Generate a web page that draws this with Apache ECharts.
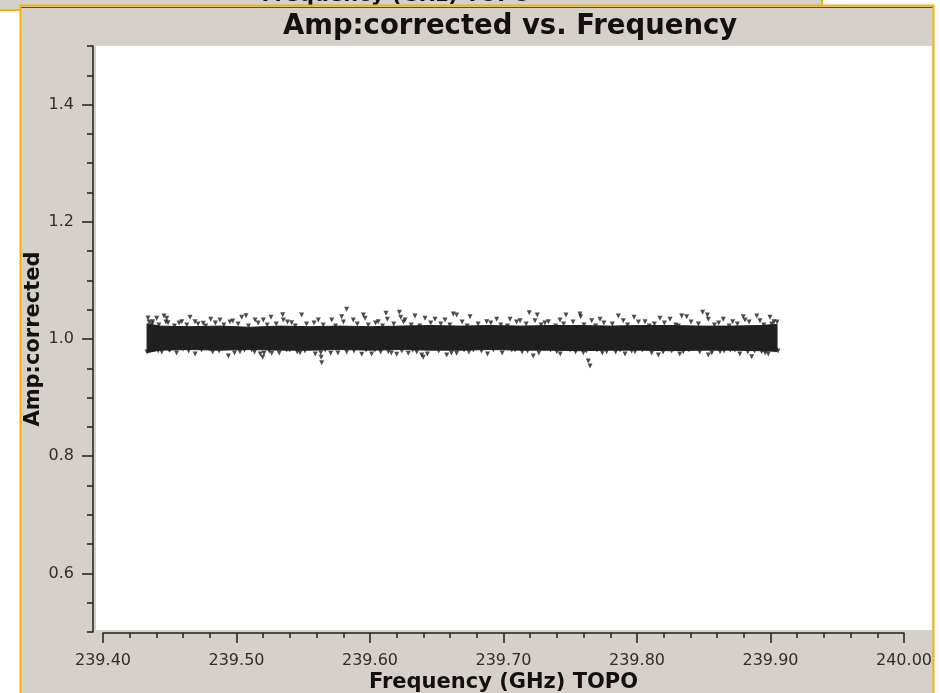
<!DOCTYPE html>
<html>
<head>
<meta charset="utf-8">
<script src="https://cdn.jsdelivr.net/npm/echarts@6/dist/echarts.min.js"></script>
<style>
html,body{margin:0;padding:0;background:#ffffff;}
#chart{width:940px;height:693px;}
</style>
</head>
<body>
<div id="chart"></div>
<script>
// ---------------- data ----------------
const chartTitle = 'Amp:corrected vs. Frequency';
const xAxisTitle = 'Frequency (GHz) TOPO';
const yAxisTitle = 'Amp:corrected';

const xTicks = [239.40, 239.50, 239.60, 239.70, 239.80, 239.90, 240.00];
const yTicks = [0.6, 0.8, 1.0, 1.2, 1.4];

// dense core of the channel cloud: upper / lower edge
const bandFreq  = [239.4330, 239.4427, 239.4652, 239.4876, 239.5101, 239.5326, 239.5551, 239.5775,
                   239.6000, 239.6225, 239.6449, 239.6674, 239.6899, 239.7124, 239.7348, 239.7573,
                   239.7798, 239.8022, 239.8247, 239.8472, 239.8697, 239.8921, 239.9049];
const bandUpper = [1.026, 1.022, 1.021, 1.022, 1.020, 1.022, 1.021, 1.022, 1.021, 1.022, 1.023, 1.022,
                   1.023, 1.022, 1.023, 1.023, 1.022, 1.023, 1.023, 1.022, 1.022, 1.023, 1.025];
const bandLower = [0.977, 0.981, 0.982, 0.981, 0.982, 0.981, 0.981, 0.982, 0.981, 0.982, 0.981, 0.981,
                   0.982, 0.981, 0.981, 0.980, 0.981, 0.981, 0.980, 0.981, 0.981, 0.980, 0.979];

// channels forming the ragged upper edge of the cloud
const edgeUpperFreq = [
  239.4365, 239.4418, 239.4471, 239.4535, 239.4570, 239.4628, 239.4712, 239.4769, 239.4842, 239.4905,
  239.4951, 239.5012, 239.5090, 239.5162, 239.5230, 239.5298, 239.5382, 239.5440, 239.5525, 239.5581,
  239.5650, 239.5742, 239.5801, 239.5905, 239.5987, 239.6041, 239.6094, 239.6178, 239.6251, 239.6309,
  239.6372, 239.6455, 239.6530, 239.6598, 239.6690, 239.6728, 239.6810, 239.6905, 239.6980, 239.7030,
  239.7098, 239.7170, 239.7282, 239.7310, 239.7390, 239.7450, 239.7521, 239.7603, 239.7690, 239.7752,
  239.7815, 239.7930, 239.8011, 239.8092, 239.8130, 239.8205, 239.8290, 239.8310, 239.8405, 239.8460,
  239.8580, 239.8612, 239.8690, 239.8752, 239.8840, 239.8950, 239.9010
];
const edgeUpperAmp = [
  1.0256, 1.0239, 1.0290, 1.0222, 1.0273, 1.0239, 1.0256, 1.0222, 1.0273, 1.0239,
  1.0290, 1.0256, 1.0222, 1.0273, 1.0239, 1.0256, 1.0290, 1.0222, 1.0256, 1.0273,
  1.0239, 1.0222, 1.0290, 1.0256, 1.0239, 1.0273, 1.0222, 1.0256, 1.0290, 1.0239,
  1.0222, 1.0273, 1.0256, 1.0239, 1.0290, 1.0222, 1.0256, 1.0273, 1.0239, 1.0222,
  1.0290, 1.0256, 1.0239, 1.0273, 1.0222, 1.0256, 1.0290, 1.0239, 1.0222, 1.0273,
  1.0256, 1.0239, 1.0290, 1.0222, 1.0256, 1.0273, 1.0239, 1.0222, 1.0290, 1.0256,
  1.0239, 1.0273, 1.0222, 1.0256, 1.0290, 1.0239, 1.0256
];
// channels forming the ragged lower edge of the cloud
const edgeLowerFreq = [
  239.4352, 239.4440, 239.4495, 239.4551, 239.4642, 239.4690, 239.4738, 239.4822, 239.4870, 239.4985,
  239.5060, 239.5135, 239.5178, 239.5245, 239.5320, 239.5398, 239.5455, 239.5512, 239.5590, 239.5665,
  239.5760, 239.5825, 239.5880, 239.5970, 239.6012, 239.6080, 239.6160, 239.6238, 239.6320, 239.6350,
  239.6430, 239.6515, 239.6610, 239.6705, 239.6741, 239.6835, 239.6880, 239.6990, 239.7062, 239.7140,
  239.7180, 239.7265, 239.7352, 239.7425, 239.7540, 239.7620, 239.7700, 239.7740, 239.7840, 239.7910,
  239.7960, 239.8040, 239.8110, 239.8195, 239.8260, 239.8320, 239.8390, 239.8470, 239.8560, 239.8652,
  239.8700, 239.8770, 239.8830, 239.8880, 239.8960, 239.9040
];
const edgeLowerAmp = [
  0.9795, 0.9778, 0.9812, 0.9761, 0.9795, 0.9744, 0.9812, 0.9778, 0.9795, 0.9761,
  0.9812, 0.9778, 0.9744, 0.9795, 0.9761, 0.9812, 0.9778, 0.9795, 0.9744, 0.9812,
  0.9761, 0.9778, 0.9795, 0.9812, 0.9744, 0.9778, 0.9761, 0.9795, 0.9812, 0.9778,
  0.9744, 0.9795, 0.9761, 0.9812, 0.9778, 0.9795, 0.9744, 0.9761, 0.9812, 0.9778,
  0.9795, 0.9761, 0.9812, 0.9744, 0.9778, 0.9795, 0.9812, 0.9761, 0.9778, 0.9744,
  0.9795, 0.9812, 0.9761, 0.9778, 0.9795, 0.9744, 0.9812, 0.9778, 0.9761, 0.9795,
  0.9812, 0.9744, 0.9778, 0.9795, 0.9761, 0.9812
];

// individual channels that stick out further
const outlierFreq = [
  239.4337, 239.4345, 239.4330, 239.4372, 239.4402, 239.4457, 239.4477, 239.4487, 239.4590, 239.4652,
  239.4689, 239.4751, 239.4807, 239.4876, 239.4972, 239.5039, 239.5071, 239.5139, 239.5201, 239.5258,
  239.5346, 239.5351, 239.5413, 239.5488, 239.5613, 239.5713, 239.5788, 239.5825, 239.5875, 239.5950,
  239.5963, 239.6062, 239.6120, 239.6130, 239.6220, 239.6230, 239.6262, 239.6337, 239.6412, 239.6487,
  239.6562, 239.6624, 239.6649, 239.6749, 239.6874, 239.6949, 239.7049, 239.7124, 239.7193, 239.7253,
  239.7236, 239.7336, 239.7423, 239.7468, 239.7573, 239.7578, 239.7661, 239.7723, 239.7860, 239.7897,
  239.7978, 239.8060, 239.8172, 239.8247, 239.8335, 239.8372, 239.8492, 239.8527, 239.8534, 239.8646,
  239.8717, 239.8796, 239.8809, 239.8897, 239.8921, 239.8996, 239.9026, 239.9049, 239.9056,
  239.4414, 239.4502, 239.4601, 239.4801, 239.4939, 239.5026, 239.5114, 239.5196, 239.5206, 239.5264,
  239.5376, 239.5476, 239.5631, 239.5634, 239.5638, 239.5706, 239.5938, 239.6037, 239.6137, 239.6200,
  239.6287, 239.6387, 239.6399, 239.6575, 239.6649, 239.6774, 239.6924, 239.7086, 239.7223, 239.7399,
  239.7498, 239.7598, 239.7635, 239.7648, 239.7773, 239.7873, 239.7985, 239.8160, 239.8347, 239.8534,
  239.8622, 239.8734, 239.8859, 239.8934, 239.8983, 239.9026
];
const outlierAmp = [
  1.0358, 1.0290, 0.9778, 1.0295, 1.0353, 1.0392, 1.0353, 1.0278, 1.0295, 1.0370,
  1.0295, 1.0268, 1.0336, 1.0324, 1.0307, 1.0370, 1.0397, 1.0324, 1.0324, 1.0370,
  1.0414, 1.0324, 1.0278, 1.0409, 1.0324, 1.0324, 1.0380, 1.0506, 1.0324, 1.0409,
  1.0353, 1.0295, 1.0438, 1.0336, 1.0455, 1.0370, 1.0324, 1.0392, 1.0353, 1.0336,
  1.0324, 1.0426, 1.0409, 1.0380, 1.0295, 1.0336, 1.0336, 1.0312, 1.0448, 1.0409,
  1.0312, 1.0295, 1.0324, 1.0409, 1.0426, 1.0380, 1.0312, 1.0336, 1.0392, 1.0312,
  1.0370, 1.0295, 1.0353, 1.0336, 1.0392, 1.0380, 1.0455, 1.0409, 1.0336, 1.0336,
  1.0295, 1.0380, 1.0324, 1.0392, 1.0312, 1.0370, 1.0295, 1.0290, 0.9795,
  0.9801, 0.9812, 0.9830, 0.9824, 0.9710, 0.9783, 0.9812, 0.9688, 0.9756, 0.9756,
  0.9812, 0.9766, 0.9766, 0.9688, 0.9596, 0.9756, 0.9739, 0.9812, 0.9783, 0.9739,
  0.9756, 0.9727, 0.9688, 0.9727, 0.9756, 0.9812, 0.9812, 0.9812, 0.9710, 0.9783,
  0.9812, 0.9766, 0.9625, 0.9540, 0.9783, 0.9812, 0.9783, 0.9727, 0.9783, 0.9727,
  0.9783, 0.9812, 0.9698, 0.9783, 0.9744, 0.9812
];

// ---------------- chart ----------------
const FONT = 'DejaVu Sans';
const INK = '#1f1f1f';
const GRAY = '#d5d1ca';
const ORANGE = '#f6b400';

const chart = echarts.init(document.getElementById('chart'), null, {renderer: 'canvas'});

const pairs = (fs, as) => fs.map((f, i) => [f, as[i]]);
const pointData = pairs(outlierFreq, outlierAmp)
  .concat(pairs(edgeUpperFreq, edgeUpperAmp))
  .concat(pairs(edgeLowerFreq, edgeLowerAmp));

const option = {
  animation: false,
  backgroundColor: '#ffffff',
  title: {
    text: chartTitle,
    left: 278,
    top: 8,
    textStyle: {fontFamily: FONT, fontSize: 27.5, fontWeight: 'bold', color: '#111'}
  },
  graphic: {
    elements: [
      // window behind
      {type: 'rect', z: -20, silent: true, shape: {x: -2, y: -2, width: 824, height: 12},
       style: {fill: GRAY, stroke: ORANGE, lineWidth: 2}},
      {type: 'text', z: -19, silent: true, x: 396, y: -4,
       style: {text: xAxisTitle, font: 'bold 21px "DejaVu Sans"', fill: '#111', textAlign: 'center', textVerticalAlign: 'middle'}},
      // front window
      {type: 'rect', z: -15, silent: true, shape: {x: 20.5, y: 5.5, width: 913, height: 800},
       style: {fill: GRAY, stroke: ORANGE, lineWidth: 2}},
      {type: 'line', z: -14, silent: true, shape: {x1: 21.5, y1: 7.5, x2: 932.5, y2: 7.5},
       style: {stroke: '#4d4d4d', lineWidth: 1}},
      // plot canvas
      {type: 'rect', z: -13, silent: true, shape: {x: 96, y: 46, width: 836, height: 584},
       style: {fill: '#ffffff'}}
    ]
  },
  grid: {left: 103, top: 46, width: 801, height: 586, containLabel: false, outerBoundsMode: 'none'},
  xAxis: [{
    type: 'value', position: 'bottom', offset: 1,
    min: 239.4, max: 240.0, interval: 0.1,
    axisLine: {show: true, lineStyle: {color: INK, width: 1.5}},
    axisTick: {show: true, length: 10, customValues: xTicks, lineStyle: {color: INK, width: 1.5}},
    minorTick: {show: true, splitNumber: 5, length: 5, lineStyle: {color: INK, width: 1.5}},
    splitLine: {show: false},
    axisLabel: {customValues: xTicks, formatter: v => Number(v).toFixed(2), fontFamily: FONT, fontSize: 16, color: '#2e2e2e', margin: 20},
    name: xAxisTitle, nameLocation: 'middle', nameGap: 39, nameMoveOverlap: false,
    nameTextStyle: {fontFamily: FONT, fontSize: 21, fontWeight: 'bold', color: '#111'}
  }],
  yAxis: [{
    type: 'value', position: 'left', offset: 10,
    min: 0.5, max: 1.5,
    axisLine: {show: true, lineStyle: {color: INK, width: 1.5}},
    axisTick: {show: true, length: 11, customValues: yTicks, lineStyle: {color: INK, width: 1.5}},
    splitLine: {show: false},
    axisLabel: {customValues: yTicks, formatter: v => Number(v).toFixed(1), fontFamily: FONT, fontSize: 16, color: '#2e2e2e', margin: 19},
    name: yAxisTitle, nameLocation: 'middle', nameGap: 49, nameRotate: 90, nameMoveOverlap: false,
    nameTextStyle: {fontFamily: FONT, fontSize: 21, fontWeight: 'bold', color: '#111'}
  }, {
    type: 'value', position: 'left', offset: 10,
    min: 0.5, max: 1.5, interval: 0.05,
    axisLine: {show: false},
    axisTick: {show: true, length: 6, lineStyle: {color: INK, width: 1.5}},
    splitLine: {show: false},
    axisLabel: {show: false}
  }],
  series: [{
    type: 'custom',
    name: 'core',
    coordinateSystem: 'cartesian2d',
    xAxisIndex: 0, yAxisIndex: 0,
    silent: true,
    data: [[239.6, 1.0]],
    renderItem: function (params, api) {
      const pts = [];
      for (let i = 0; i < bandFreq.length; i++) pts.push(api.coord([bandFreq[i], bandUpper[i]]));
      for (let i = bandFreq.length - 1; i >= 0; i--) pts.push(api.coord([bandFreq[i], bandLower[i]]));
      return {type: 'polygon', shape: {points: pts}, style: {fill: INK, stroke: INK, lineWidth: 1}};
    }
  }, {
    type: 'scatter',
    name: 'channels',
    xAxisIndex: 0, yAxisIndex: 0,
    data: pointData,
    symbol: 'triangle',
    symbolRotate: 180,
    symbolSize: [5, 5],
    itemStyle: {color: INK},
    silent: true
  }]
};
chart.setOption(option);
</script>
</body>
</html>
